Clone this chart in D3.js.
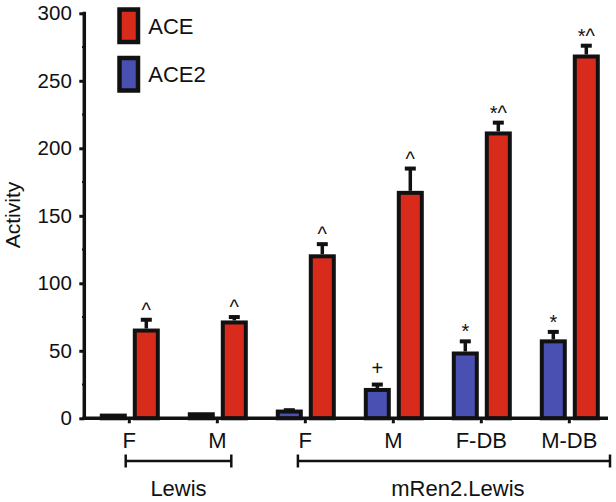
<!DOCTYPE html>
<html>
<head>
<meta charset="utf-8">
<script src="https://cdn.jsdelivr.net/npm/d3@7"></script>
<style>
  html, body { margin: 0; padding: 0; background: #fff; }
  svg { display: block; }
  text { font-family: "Liberation Sans", Arial, Helvetica, sans-serif; fill: #111; }
</style>
</head>
<body>
<svg id="chart" width="616" height="502"></svg>
<script>
// ---- data ----
const categoryIds = ["Lewis F", "Lewis M", "mRen2 F", "mRen2 M", "mRen2 F-DB", "mRen2 M-DB"];
const tickLabels = ["F", "M", "F", "M", "F-DB", "M-DB"];
const seriesNames = ["ACE", "ACE2"];
const aceValues = [65, 71, 120, 167, 211, 268];
const aceErrors = [8, 4, 9, 18, 8, 8];
const aceMarks = ["^", "^", "^", "^", "*^", "*^"];
const ace2Values = [2, 3, 5, 21, 48, 57];
const ace2Errors = [0, 0, 1, 4, 9, 7];
const ace2Marks = ["", "", "", "+", "*", "*"];
const yTicks = [0, 50, 100, 150, 200, 250, 300];
const yMinorTicks = [25, 75, 125, 175, 225, 275];
const groupNames = ["Lewis", "mRen2.Lewis"];
const groupMembers = [["Lewis F", "Lewis M"], ["mRen2 F", "mRen2 M", "mRen2 F-DB", "mRen2 M-DB"]];
const yTitle = "Activity";

// ---- styles ----
const colors = { "ACE": "#d92b1c", "ACE2": "#4a4fb2" };
const ink = "#111";

const svg = d3.select("#chart");

const y = d3.scaleLinear().domain([0, 300]).range([418.3, 13.3]);
const x = d3.scaleBand().domain(categoryIds).range([85.3, 613.3]).padding(0);
const x1 = d3.scaleBand().domain(["ACE2", "ACE"]).range([-32.5, 33.5]);
const barW = 23;
const center = id => x(id) + x.bandwidth() / 2;

const rows = [];
categoryIds.forEach((id, i) => {
  rows.push({ id, s: "ACE2", v: ace2Values[i], e: ace2Errors[i], m: ace2Marks[i] });
  rows.push({ id, s: "ACE", v: aceValues[i], e: aceErrors[i], m: aceMarks[i] });
});
const bx = d => center(d.id) + x1(d.s) + x1.bandwidth() / 2;

// bars
svg.append("g").selectAll("rect").data(rows).join("rect")
  .attr("x", d => bx(d) - barW / 2)
  .attr("y", d => y(d.v))
  .attr("width", barW)
  .attr("height", d => y(0) - y(d.v))
  .attr("fill", d => colors[d.s])
  .attr("stroke", ink)
  .attr("stroke-width", 4);

// error bars
const eb = svg.append("g").selectAll("g").data(rows.filter(d => d.e > 0)).join("g");
eb.append("line")
  .attr("x1", bx).attr("x2", bx)
  .attr("y1", d => y(d.v) - 2).attr("y2", d => y(d.v + d.e))
  .attr("stroke", ink).attr("stroke-width", 3.5);
eb.append("rect")
  .attr("x", d => bx(d) - 5.5).attr("width", 11)
  .attr("y", d => y(d.v + d.e) - 2).attr("height", 4)
  .attr("fill", ink);

// significance marks
svg.append("g").selectAll("text").data(rows.filter(d => d.m)).join("text")
  .attr("x", bx)
  .attr("y", d => y(d.v + d.e) - (d.m === "+" ? 10 : 3))
  .attr("text-anchor", "middle")
  .style("font-size", "20px")
  .text(d => d.m);

// y axis
const yAxis = svg.append("g").attr("transform", "translate(84.3,0)")
  .call(d3.axisLeft(y).tickValues(yTicks).tickSize(5).tickPadding(7.5).tickFormat(d3.format("d")));
yAxis.select(".domain").remove();
yAxis.selectAll(".tick line").attr("stroke", ink).attr("stroke-width", 3);
yAxis.selectAll(".tick text").style("font-size", "20.5px").attr("fill", ink);
svg.append("g").selectAll("line").data(yMinorTicks).join("line")
  .attr("x1", 82).attr("x2", 84.3)
  .attr("y1", d => y(d)).attr("y2", d => y(d))
  .attr("stroke", ink).attr("stroke-width", 2);
svg.append("line").attr("x1", 84.3).attr("x2", 84.3).attr("y1", y(300) - 1.5).attr("y2", y(0) + 1.7)
  .attr("stroke", ink).attr("stroke-width", 3.5);

// x axis
const xAxis = svg.append("g").attr("transform", `translate(0,${y(0)})`)
  .call(d3.axisBottom(x).tickSize(5).tickPadding(9.4).tickFormat((d, i) => tickLabels[i]));
xAxis.select(".domain").remove();
xAxis.selectAll(".tick line").attr("stroke", ink).attr("stroke-width", 3);
xAxis.selectAll(".tick text").style("font-size", "22px").attr("fill", ink);
svg.append("line").attr("x1", 82.5).attr("x2", 608).attr("y1", y(0)).attr("y2", y(0))
  .attr("stroke", ink).attr("stroke-width", 3.5);

// y title
svg.append("text")
  .attr("transform", `translate(20,215) rotate(-90)`)
  .attr("text-anchor", "middle")
  .style("font-size", "21px")
  .text(yTitle);

// group brackets
const bracketPad = [[-3.6, 14], [-7.4, 40.7]];
groupNames.forEach((g, i) => {
  const mem = groupMembers[i];
  const xa = center(mem[0]) + bracketPad[i][0];
  const xb = center(mem[mem.length - 1]) + bracketPad[i][1];
  const by = 461;
  const gg = svg.append("g").attr("stroke", ink).attr("stroke-width", 2.5);
  gg.append("line").attr("x1", xa).attr("x2", xb).attr("y1", by).attr("y2", by);
  gg.append("line").attr("x1", xa).attr("x2", xa).attr("y1", by - 6.5).attr("y2", by + 6.5);
  gg.append("line").attr("x1", xb).attr("x2", xb).attr("y1", by - 6.5).attr("y2", by + 6.5);
  svg.append("text").attr("x", (xa + xb) / 2 + (i === 1 ? 4 : 0)).attr("y", 496)
    .attr("text-anchor", "middle").style("font-size", "22px").text(g);
});

// legend
const legend = svg.append("g");
seriesNames.forEach((s, i) => {
  const ly = 9.5 + i * 48.5;
  legend.append("rect").attr("x", 119.5).attr("y", ly).attr("width", 18.5).attr("height", 32.5)
    .attr("fill", colors[s]).attr("stroke", ink).attr("stroke-width", 4.5);
  legend.append("text").attr("x", 148.3).attr("y", ly + 24).style("font-size", "22px").text(s);
});
</script>
</body>
</html>
